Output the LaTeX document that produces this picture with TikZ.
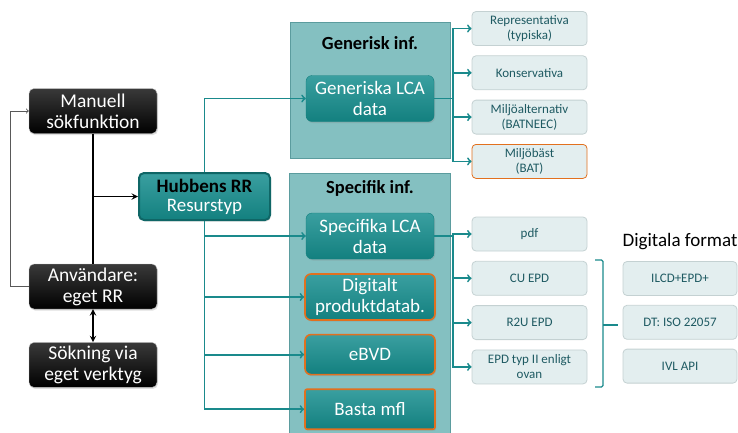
\documentclass[tikz,border=0pt]{standalone}
\usepackage{fontspec}
\setmainfont{Carlito}
\usetikzlibrary{positioning,shadows}

\definecolor{tealbox}{HTML}{13807F}
\definecolor{tealtop}{HTML}{3A9FA0}
\definecolor{tealline}{HTML}{1A8A8C}
\definecolor{panelfill}{HTML}{84C0C1}
\definecolor{panelline}{HTML}{5B9C9E}
\definecolor{lightfill}{HTML}{E3EEEF}
\definecolor{lightline}{HTML}{C4D1D2}
\definecolor{lighttext}{HTML}{1E5A62}
\definecolor{orangeline}{HTML}{E2701E}

\tikzstyle{blackbox} = [rectangle, rounded corners=5pt, minimum width=128pt, minimum height=45pt, align=center, text=white, top color=gray!45!black, bottom color=black, draw=gray!50, font=\fontsize{19.5}{21}\selectfont, drop shadow={opacity=0.25, shadow xshift=1pt, shadow yshift=-1.5pt}]
\tikzstyle{hubbox} = [rectangle, rounded corners=5pt, minimum width=131pt, minimum height=47pt, align=center, top color=tealtop, bottom color=tealbox, draw=tealbox!80!black, line width=2pt, font=\fontsize{19}{19}\selectfont, drop shadow={opacity=0.25, shadow xshift=1pt, shadow yshift=-1.5pt}]
\tikzstyle{panel} = [rectangle, fill=panelfill, draw=panelline, line width=0.8pt]
\tikzstyle{paneltitle} = [font=\bfseries\fontsize{18.5}{20}\selectfont]
\tikzstyle{lcabox} = [rectangle, rounded corners=6pt, minimum width=128pt, minimum height=46pt, align=center, text=white, top color=tealtop, bottom color=tealbox, draw=tealbox, font=\fontsize{19}{21}\selectfont, drop shadow={opacity=0.25, shadow xshift=1pt, shadow yshift=-1.5pt}]
\tikzstyle{orangebox} = [lcabox, minimum width=130pt, draw=orangeline, line width=1.6pt]
\tikzstyle{infobox} = [rectangle, rounded corners=4pt, minimum width=115pt, minimum height=34pt, align=center, fill=lightfill, draw=lightline, line width=0.8pt, text=lighttext, font=\fontsize{13}{15}\selectfont]
\tikzstyle{arrow} = [line width=1.8pt, ->, >=stealth]
\tikzstyle{double_arrow} = [line width=1.8pt, <->, >=stealth]
\tikzstyle{tealarrow} = [line width=1.8pt, ->, color=tealline]

\begin{document}
\begin{tikzpicture}[x=1pt, y=-1pt]

    \useasboundingbox (0,0) rectangle (738,432);

    % Draw panels
    \node (genpanel) [panel, minimum width=160pt, minimum height=136pt, anchor=north west] at (290,22) {};
    \node (spepanel) [panel, minimum width=161pt, minimum height=270pt, anchor=north west] at (289,173) {};
    \node [paneltitle] at (370,43) {Generisk inf.};
    \node [paneltitle] at (370,188) {Specifik inf.};

    % Draw nodes
    \node (manuell) [blackbox] at (93,111) {Manuell\\sökfunktion};
    \node (anvandare) [blackbox] at (93,286.5) {Användare:\\eget RR};
    \node (sokning) [blackbox, below=33pt of anvandare] {Sökning via\\eget verktyg};
    \node (hubben) [hubbox] at (204.5,196.5) {\textbf{Hubbens RR}\\\textcolor{white}{Resurstyp}};

    \node (genlca) [lcabox] at (370,98.5) {Generiska LCA\\data};
    \node (spelca) [lcabox] at (370,236) {Specifika LCA\\data};
    \node (digitalt) [orangebox, below=14pt of spelca] {Digitalt\\produktdatab.};
    \node (ebvd) [orangebox, minimum height=40pt, below=13pt of digitalt] {eBVD};
    \node (basta) [orangebox, rounded corners=2pt, minimum height=40pt, below=13pt of ebvd] {Basta mfl};

    \node (repr) [infobox] at (529.5,28.5) {Representativa\\(typiska)};
    \node (kons) [infobox, below=9.5pt of repr] {Konservativa};
    \node (miljoalt) [infobox, below=9.5pt of kons] {Miljöalternativ\\(BATNEEC)};
    \node (miljobast) [infobox, draw=orangeline, below=9.5pt of miljoalt] {Miljöbäst\\(BAT)};

    \node (pdf) [infobox] at (529.5,234) {pdf};
    \node (cuepd) [infobox, below=9.5pt of pdf] {CU EPD};
    \node (rtwou) [infobox, below=9.5pt of cuepd] {R2U EPD};
    \node (epdtyp) [infobox, below=9.5pt of rtwou] {EPD typ II enligt\\ovan};

    \node (format) [font=\fontsize{19}{20}\selectfont] at (680,242) {Digitala format};
    \node (ilcd) [infobox, minimum width=114pt] at (680,278.5) {ILCD+EPD+};
    \node (iso) [infobox, minimum width=114pt, below=9pt of ilcd] {DT: ISO 22057};
    \node (ivl) [infobox, minimum width=114pt, below=9pt of iso] {IVL API};

    % Draw connections
    \draw [->, gray!70!black, line width=0.9pt] (anvandare.west) -- ++(-18,0) |- (manuell.west);
    \draw [line width=1.8pt] (manuell.south) -- (anvandare.north);
    \draw [arrow] (manuell.south |- hubben.west) -- (hubben.west);
    \draw [double_arrow] (anvandare.south) -- (sokning.north);

    \draw [tealarrow] (hubben.north) |- (genlca.west);
    \foreach \n in {spelca, digitalt, ebvd, basta}
        \draw [tealarrow] (hubben.south) |- (\n.west);

    \coordinate (genjoin) at ([xshift=19pt]genlca.east);
    \draw [tealarrow, -] (genlca.east) -- (genjoin);
    \foreach \n in {repr, kons, miljoalt, miljobast}
        \draw [tealarrow] (genjoin) |- (\n.west);

    \coordinate (spejoin) at ([xshift=19pt]spelca.east);
    \draw [tealarrow, -] (spelca.east) -- (spejoin);
    \foreach \n in {pdf, cuepd, rtwou, epdtyp}
        \draw [tealarrow] (spejoin) |- (\n.west);

    % Bracket round the EPD formats
    \coordinate (brtop) at (595,260);
    \coordinate (brbot) at (595,387);
    \coordinate (brtip) at (618,325);
    \draw [tealline, line width=1.3pt, rounded corners=1.5pt] (brtop) -- (603,260) -- (603,387) -- (brbot);
    \draw [tealline, line width=1.3pt] (603,325) -- (brtip);

\end{tikzpicture}
\end{document}
